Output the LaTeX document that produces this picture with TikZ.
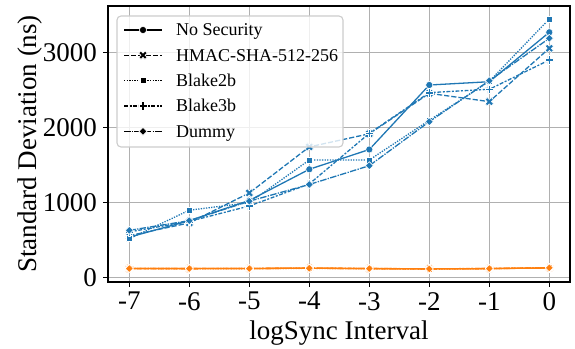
\documentclass[tikz,border=0pt]{standalone}
\usepackage{fontspec}
\setmainfont{Liberation Serif}
\usetikzlibrary{plotmarks}
\definecolor{cb}{RGB}{31,119,180}
\definecolor{co}{RGB}{255,127,14}
\definecolor{gridc}{RGB}{176,176,176}
\definecolor{legedge}{RGB}{204,204,204}
\pgfdeclareplotmark{Dm}{%
  \pgfpathmoveto{\pgfqpoint{0pt}{\pgfplotmarksize}}%
  \pgfpathlineto{\pgfqpoint{\pgfplotmarksize}{0pt}}%
  \pgfpathlineto{\pgfqpoint{0pt}{-\pgfplotmarksize}}%
  \pgfpathlineto{\pgfqpoint{-\pgfplotmarksize}{0pt}}%
  \pgfpathclose\pgfusepathqfillstroke}
\pgfdeclareplotmark{Pf}{%
  \pgfpathmoveto{\pgfqpoint{0.34\pgfplotmarksize}{\pgfplotmarksize}}%
  \pgfpathlineto{\pgfqpoint{0.34\pgfplotmarksize}{0.34\pgfplotmarksize}}%
  \pgfpathlineto{\pgfqpoint{\pgfplotmarksize}{0.34\pgfplotmarksize}}%
  \pgfpathlineto{\pgfqpoint{\pgfplotmarksize}{-0.34\pgfplotmarksize}}%
  \pgfpathlineto{\pgfqpoint{0.34\pgfplotmarksize}{-0.34\pgfplotmarksize}}%
  \pgfpathlineto{\pgfqpoint{0.34\pgfplotmarksize}{-\pgfplotmarksize}}%
  \pgfpathlineto{\pgfqpoint{-0.34\pgfplotmarksize}{-\pgfplotmarksize}}%
  \pgfpathlineto{\pgfqpoint{-0.34\pgfplotmarksize}{-0.34\pgfplotmarksize}}%
  \pgfpathlineto{\pgfqpoint{-\pgfplotmarksize}{-0.34\pgfplotmarksize}}%
  \pgfpathlineto{\pgfqpoint{-\pgfplotmarksize}{0.34\pgfplotmarksize}}%
  \pgfpathlineto{\pgfqpoint{-0.34\pgfplotmarksize}{0.34\pgfplotmarksize}}%
  \pgfpathlineto{\pgfqpoint{-0.34\pgfplotmarksize}{\pgfplotmarksize}}%
  \pgfpathclose\pgfusepathqfillstroke}
\pgfdeclareplotmark{Xf}{%
  \pgfpathmoveto{\pgfqpoint{-0.4667\pgfplotmarksize}{0.9475\pgfplotmarksize}}%
  \pgfpathlineto{\pgfqpoint{0pt}{0.4808\pgfplotmarksize}}%
  \pgfpathlineto{\pgfqpoint{0.4667\pgfplotmarksize}{0.9475\pgfplotmarksize}}%
  \pgfpathlineto{\pgfqpoint{0.9475\pgfplotmarksize}{0.4667\pgfplotmarksize}}%
  \pgfpathlineto{\pgfqpoint{0.4808\pgfplotmarksize}{0pt}}%
  \pgfpathlineto{\pgfqpoint{0.9475\pgfplotmarksize}{-0.4667\pgfplotmarksize}}%
  \pgfpathlineto{\pgfqpoint{0.4667\pgfplotmarksize}{-0.9475\pgfplotmarksize}}%
  \pgfpathlineto{\pgfqpoint{0pt}{-0.4808\pgfplotmarksize}}%
  \pgfpathlineto{\pgfqpoint{-0.4667\pgfplotmarksize}{-0.9475\pgfplotmarksize}}%
  \pgfpathlineto{\pgfqpoint{-0.9475\pgfplotmarksize}{-0.4667\pgfplotmarksize}}%
  \pgfpathlineto{\pgfqpoint{-0.4808\pgfplotmarksize}{0pt}}%
  \pgfpathlineto{\pgfqpoint{-0.9475\pgfplotmarksize}{0.4667\pgfplotmarksize}}%
  \pgfpathclose\pgfusepathqfillstroke}
\begin{document}
\begin{tikzpicture}[x=1pt,y=1pt,
  gridline/.style={draw=gridc, line width=1.1pt},
  spine/.style={draw=black, line width=1.2pt},
  ticklab/.style={font=\fontsize{27}{30}\selectfont, inner sep=0pt},
  axlab/.style={font=\fontsize{27}{30}\selectfont, inner sep=0pt},
  leglab/.style={font=\fontsize{18}{20}\selectfont, inner sep=0pt, anchor=base west},
  ser/.style={line width=1.3pt, line join=round},
  mk/.style={mark options={solid, draw=white, line width=0.6pt, fill=#1}},
  snosec/.style={ser, solid},
  shmac/.style={ser, dash pattern=on 5.2pt off 2pt},
  sbtwo/.style={ser, dash pattern=on 1.3pt off 1.3pt},
  sbthree/.style={ser, dash pattern=on 3.9pt off 1.6pt on 2pt off 1.6pt},
  sdum/.style={ser, dash pattern=on 6.5pt off 1.3pt on 1.3pt off 1.3pt},
  mnosec/.style={mark=*, mark size=3.6pt},
  mhmac/.style={mark=Xf, mark size=4.4pt},
  mbtwo/.style={mark=square*, mark size=3pt},
  mbthree/.style={mark=Pf, mark size=4.2pt},
  mdum/.style={mark=Dm, mark size=4pt}]
\useasboundingbox (0,0) rectangle (575,348);
\begin{scope}[shift={(549.3,70.4)},x=60pt,y=0.0749pt]
  % grid
  \foreach \i in {-7,...,0} \draw[gridline] (\i,-59) -- (\i,3626);
  \foreach \v in {0,1000,2000,3000} \draw[gridline] (-7.355,\v) -- (0.345,\v);
  % ticks and labels
  \foreach \i in {-7,...,0} {
    \draw[spine] (\i,-59) -- ++(0,-5pt);
    \node[ticklab, anchor=north] (xt\i) at ([yshift=-10pt]\i,-59) {\i};
  }
  \foreach \v in {0,1000,2000,3000} {
    \draw[spine] (-7.355,\v) -- ++(-5pt,0);
    \node[ticklab, anchor=east] (yt\v) at ([xshift=-11pt]-7.355,\v) {\v};
  }
  % blue series
  \draw[cb, snosec] plot[mnosec, mk=cb] coordinates {(-7,540) (-6,760) (-5,1030) (-4,1446) (-3,1710) (-2,2571) (-1,2615) (0,3275)};
  \draw[cb, shmac] plot[mhmac, mk=cb] coordinates {(-7,560) (-6,730) (-5,1130) (-4,1745) (-3,1920) (-2,2460) (-1,2349) (0,3061)};
  \draw[cb, sbtwo] plot[mbtwo, mk=cb] coordinates {(-7,519) (-6,900) (-5,1000) (-4,1570) (-3,1570) (-2,2100) (-1,2620) (0,3453)};
  \draw[cb, sbthree] plot[mbthree, mk=cb] coordinates {(-7,610) (-6,750) (-5,956) (-4,1250) (-3,1926) (-2,2469) (-1,2514) (0,2905)};
  \draw[cb, sdum] plot[mdum, mk=cb] coordinates {(-7,631) (-6,760) (-5,1020) (-4,1243) (-3,1494) (-2,2082) (-1,2629) (0,3195)};
  % orange series
  \draw[co, snosec] plot[mnosec, mk=co] coordinates {(-7,122) (-6,121) (-5,122) (-4,125) (-3,121) (-2,117) (-1,120) (0,128)};
  \draw[co, shmac] plot[mhmac, mk=co] coordinates {(-7,120) (-6,120) (-5,121) (-4,127) (-3,120) (-2,116) (-1,121) (0,131)};
  \draw[co, sbtwo] plot[mbtwo, mk=co] coordinates {(-7,121) (-6,119) (-5,120) (-4,124) (-3,119) (-2,115) (-1,119) (0,133)};
  \draw[co, sbthree] plot[mbthree, mk=co] coordinates {(-7,123) (-6,120) (-5,122) (-4,126) (-3,122) (-2,117) (-1,122) (0,129)};
  \draw[co, sdum] plot[mdum, mk=co] coordinates {(-7,121) (-6,120) (-5,121) (-4,125) (-3,120) (-2,116) (-1,120) (0,130)};
\end{scope}
% spines
\draw[spine] (108,66) rectangle (570,342);
% axis labels
\node[axlab, anchor=base] (xlab) at (339,9) {logSync Interval};
\node[axlab, anchor=base, rotate=90] (ylab) at (36,204) {Standard Deviation (ns)};
% legend
\draw[draw=legedge, line width=1.1pt, fill=white, fill opacity=0.8, rounded corners=4pt] (117,201) rectangle (343,332);
\foreach \st/\mkk/\txt/\yy/\nm in {snosec/mnosec/No Security/318/la, shmac/mhmac/HMAC-SHA-512-256/292.8/lb, sbtwo/mbtwo/Blake2b/267.4/lc, sbthree/mbthree/Blake3b/242/ld, sdum/mdum/Dummy/216.6/le} {
  \draw[black, \st] (124,\yy) -- (162,\yy);
  \path plot[\mkk, mk=black] coordinates {(143,\yy)};
  \node[leglab] (\nm) at (176,\yy-6) {\txt};
}
\end{tikzpicture}
\end{document}
